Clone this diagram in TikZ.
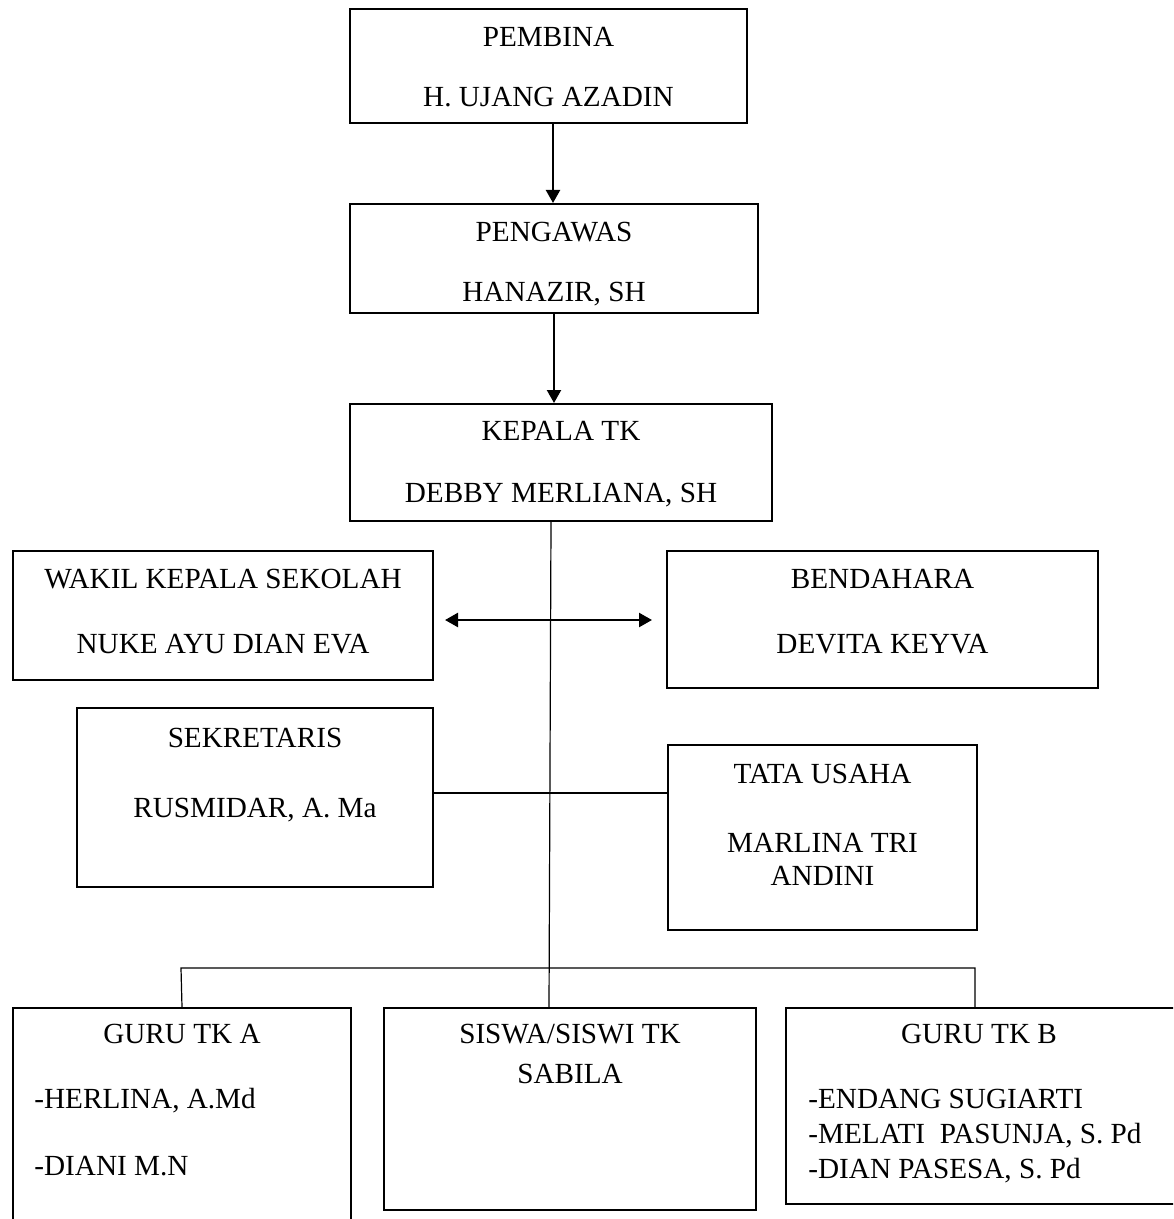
\documentclass[tikz,border=0pt]{standalone}
\usepackage{fontspec}
\setmainfont{Liberation Serif}
\usetikzlibrary{arrows.meta}
\definecolor{lineColor}{RGB}{0, 0, 0}
\definecolor{textColor}{RGB}{0, 0, 0}
\tikzset{
    org_box/.style={
        draw=lineColor,
        line width=1pt,
        inner sep=0pt,
        anchor=north west
    },
    org_text/.style={
        text=textColor,
        inner sep=0pt,
        anchor=base,
        font=\fontsize{14.6}{17}\selectfont
    },
    org_item/.style={
        org_text,
        anchor=base west
    },
    org_arrow/.style={
        -{Triangle[length=6.5pt, width=7pt]},
        line width=1.1pt,
        draw=lineColor
    },
    org_both/.style={
        {Triangle[length=6.5pt, width=7pt]}-{Triangle[length=6.5pt, width=7pt]},
        line width=1.2pt,
        draw=lineColor
    },
    org_link/.style={
        line width=0.6pt,
        draw=lineColor
    }
}
% box: name, left, top, width, height (in px of the page)
\newcommand{\orgbox}[5]{%
    \node[org_box, minimum width=#4*0.5pt, minimum height=#5*0.5pt] (#1) at (#2,#3) {};}

\begin{document}
\begin{tikzpicture}[x=0.5pt, y=-0.5pt]
    \useasboundingbox (0,0) rectangle (1173,1219);
    \clip (0,0) rectangle (1173,1219);

    \orgbox{pembina}{349}{8}{397}{114}
    \orgbox{pengawas}{349}{203}{408}{109}
    \orgbox{kepala}{349}{403}{422}{117}
    \orgbox{wakil}{12}{550}{420}{129}
    \orgbox{bendahara}{666}{550}{431}{137}
    \orgbox{sekretaris}{76}{707}{356}{179}
    \orgbox{tata}{667}{744}{309}{185}
    \orgbox{gurua}{12}{1007}{338}{240}
    \orgbox{siswa}{383}{1007}{372}{202}
    \orgbox{gurub}{785}{1007}{392}{196}

    \node[org_text] (pembina_t1) at (pembina.north |- 0,47) {PEMBINA};
    \node[org_text] (pembina_t2) at (pembina.north |- 0,107) {H. UJANG AZADIN};
    \node[org_text] (pengawas_t1) at (pengawas.north |- 0,242) {PENGAWAS};
    \node[org_text] (pengawas_t2) at (pengawas.north |- 0,302) {HANAZIR, SH};
    \node[org_text] (kepala_t1) at (kepala.north |- 0,440) {KEPALA TK};
    \node[org_text] (kepala_t2) at (kepala.north |- 0,502) {DEBBY MERLIANA, SH};
    \node[org_text] (wakil_t1) at (wakil.north |- 0,588) {WAKIL KEPALA SEKOLAH};
    \node[org_text] (wakil_t2) at (wakil.north |- 0,653) {NUKE AYU DIAN EVA};
    \node[org_text] (bendahara_t1) at (bendahara.north |- 0,588) {BENDAHARA};
    \node[org_text] (bendahara_t2) at (bendahara.north |- 0,653) {DEVITA KEYVA};
    \node[org_text] (sekretaris_t1) at (sekretaris.north |- 0,747) {SEKRETARIS};
    \node[org_text] (sekretaris_t2) at (sekretaris.north |- 0,817) {RUSMIDAR, A. Ma};
    \node[org_text] (tata_t1) at (tata.north |- 0,783) {TATA USAHA};
    \node[org_text] (tata_t2) at (tata.north |- 0,852) {MARLINA TRI};
    \node[org_text] (tata_t3) at (tata.north |- 0,885) {ANDINI};
    \node[org_text] (gurua_t1) at (gurua.north |- 0,1043) {GURU TK A};
    \node[org_item] (gurua_t2) at (34,1108) {-HERLINA, A.Md};
    \node[org_item] (gurua_t3) at (34,1175) {-DIANI M.N};
    \node[org_text] (siswa_t1) at (siswa.north |- 0,1043) {SISWA/SISWI TK};
    \node[org_text] (siswa_t2) at (siswa.north |- 0,1083) {SABILA};
    \node[org_text] (gurub_t1) at (979,1043) {GURU TK B};
    \node[org_item] (gurub_t2) at (808,1108) {-ENDANG SUGIARTI};
    \node[org_item] (gurub_t3) at (808,1143) {-MELATI~~PASUNJA, S. Pd};
    \node[org_item] (gurub_t4) at (808,1178) {-DIAN PASESA, S. Pd};

    \coordinate (wakil_tip) at (445,620);
    \coordinate (bendahara_tip) at (652,620);
    \coordinate (bus_left) at (181,968);
    \coordinate (bus_right) at (975,968);

    \draw[org_arrow] (pembina.south -| 553,0) -- (pengawas.north -| 553,0);
    \draw[org_arrow] (pengawas.south) -- (pengawas.south |- kepala.north);
    \draw[org_both] (wakil_tip) -- (bendahara_tip);
    \draw[org_link] (kepala.south -| 551,0) -- (siswa.north -| 549,0);
    \draw[org_link] (sekretaris.east |- 0,793) -- (tata.west |- 0,793);
    \draw[org_link] (gurua.north) -- (bus_left) -- (bus_right) -- (gurub.north -| bus_right);
\end{tikzpicture}
\end{document}
